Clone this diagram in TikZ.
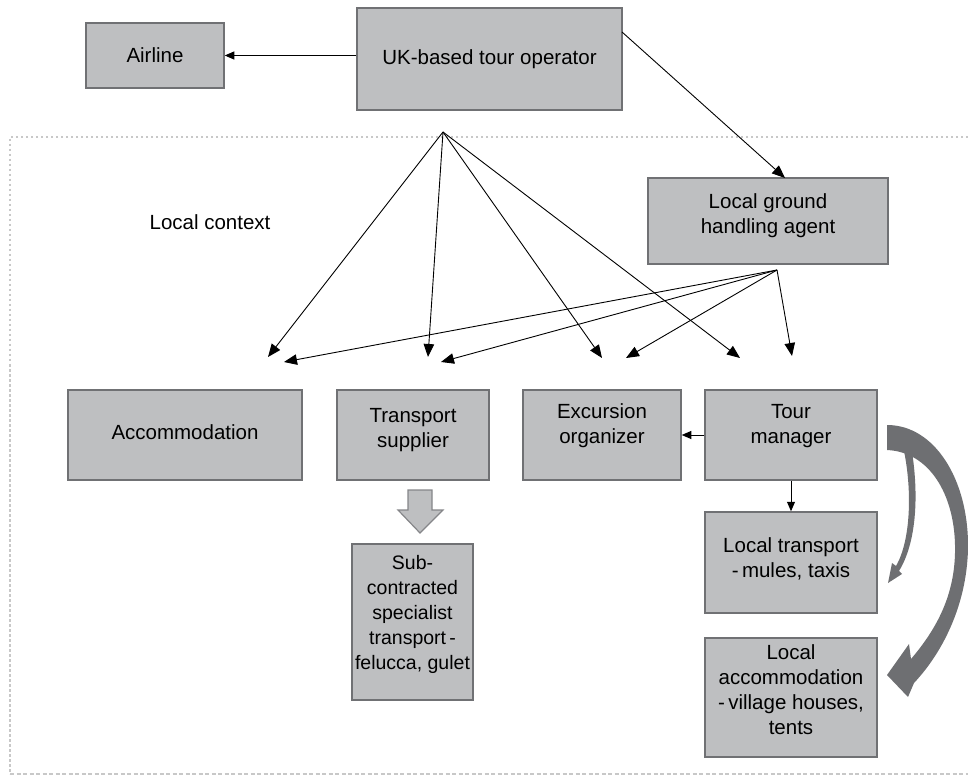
\documentclass[tikz,border=0pt]{standalone}
\usepackage{fontspec}
\setmainfont{Liberation Sans}
\usetikzlibrary{arrows.meta}
\definecolor{boxfill}{RGB}{190,191,193}
\definecolor{boxline}{RGB}{112,113,116}
\definecolor{curvecol}{RGB}{110,111,114}
\definecolor{framecol}{RGB}{200,200,200}
\tikzset{
  box/.style={draw=boxline, fill=boxfill, line width=1.5pt, inner sep=0pt},
  txt/.style={align=center, inner sep=0pt, font=\fontsize{20.5}{25}\selectfont},
  arr/.style={line width=0.9pt, -{Triangle[length=13pt,width=10.5pt]}},
  smallarr/.style={line width=0.9pt, -{Triangle[length=9.5pt,width=8pt]}},
}
\begin{document}
\begin{tikzpicture}[x=1pt,y=-1pt]
\useasboundingbox (0,0) rectangle (968,775);
% frame
\draw[framecol, line width=2pt, dash pattern=on 2.5pt off 2.5pt] (968,137) -- (10,137) -- (10,774);
\draw[framecol, line width=1.5pt, dash pattern=on 4pt off 2.5pt] (10,774) -- (968,774);

% boxes
\node[box, minimum width=138pt, minimum height=65pt] (airline) at (155,55.5) {};
\node[box, minimum width=265pt, minimum height=102pt] (uk) at (489.5,59) {};
\node[box, minimum width=240pt, minimum height=86pt] (lgha) at (768,221) {};
\node[box, minimum width=234pt, minimum height=90pt] (acc) at (185,435) {};
\node[box, minimum width=152pt, minimum height=90pt] (ts) at (413,435) {};
\node[box, minimum width=158pt, minimum height=90pt] (exc) at (602,435) {};
\node[box, minimum width=172pt, minimum height=90pt] (tm) at (791,435) {};
\node[box, minimum width=172pt, minimum height=101pt] (lt) at (791,562.5) {};
\node[box, minimum width=172pt, minimum height=119pt] (la) at (791,697.5) {};
\node[box, minimum width=121pt, minimum height=156pt] (sub) at (412.5,622) {};

% texts
\node[txt] (airline-t) at (155,55) {Airline};
\node[txt] (uk-t) at (489.5,59) {UK-based tour operator};
\node[txt] (ctx-t) at (210,222) {Local context};
\node[txt] (lgha-t) at (768,216) {Local ground\\handling agent};
\node[txt] (acc-t) at (185,432) {Accommodation};
\node[txt] (ts-t) at (413,430) {Transport\\supplier};
\node[txt] (exc-t) at (602,426) {Excursion\\organizer};
\node[txt] (tm-t) at (791,426) {Tour\\manager};
\node[txt] (lt-t) at (791,559) {Local transport\\-\,mules, taxis};
\node[txt] (la-t) at (791,690) {Local\\accommodation\\-\,village houses,\\tents};
\node[txt, font=\fontsize{19.5}{25}\selectfont] (sub-t) at (412.5,614) {Sub-\\contracted\\specialist\\transport\,-\\felucca, gulet};

% top arrows
\draw[smallarr] (uk.west |- airline.east) -- (airline.east);
\coordinate (ukr) at (622,32);
\coordinate (lghatop) at (785,178);
\draw[arr] (ukr) -- (lghatop);

% fan from UK operator
\coordinate (P) at (443,132);
\coordinate (a1) at (268,357);
\coordinate (t1) at (428,357);
\coordinate (e1) at (602,358);
\coordinate (m1) at (740,358);
\foreach \t in {a1,t1,e1,m1} \draw[arr] (P) -- (\t);

% fan from ground agent
\coordinate (Q) at (777,270);
\coordinate (a2) at (284,362);
\coordinate (t2) at (441,362);
\coordinate (e2) at (626,358);
\coordinate (m2) at (792,356);
\foreach \t in {a2,t2,e2,m2} \draw[arr] (Q) -- (\t);

% tour manager arrows
\draw[smallarr] (tm.west) -- (exc.east);
\draw[smallarr] (tm.south) -- (lt.north);

% hollow block arrow
\draw[draw=boxline!85, fill=boxfill, line width=1.2pt, line join=miter]
  (408,490) -- (432,490) -- (432,510) -- (443,510) -- (420,533) -- (398,510) -- (408,510) -- cycle;

% big curved arrow
\fill[curvecol] (887,425) .. controls (935,425) and (968,480) .. (968,545)
  .. controls (968,600) and (945,650) .. (914,683) -- (908,697) -- (887,675) -- (909,644) -- (911,659)
  .. controls (940,625) and (956,590) .. (955,545)
  .. controls (954,495) and (930,452) .. (887,450) -- cycle;
% thin curved arrow
\fill[curvecol] (904,451) .. controls (912,490) and (911,540) .. (896,566) -- (892,563) -- (888,583)
  -- (902,574) -- (899,571) .. controls (918,540) and (918,490) .. (912,452) -- cycle;
\end{tikzpicture}
\end{document}
